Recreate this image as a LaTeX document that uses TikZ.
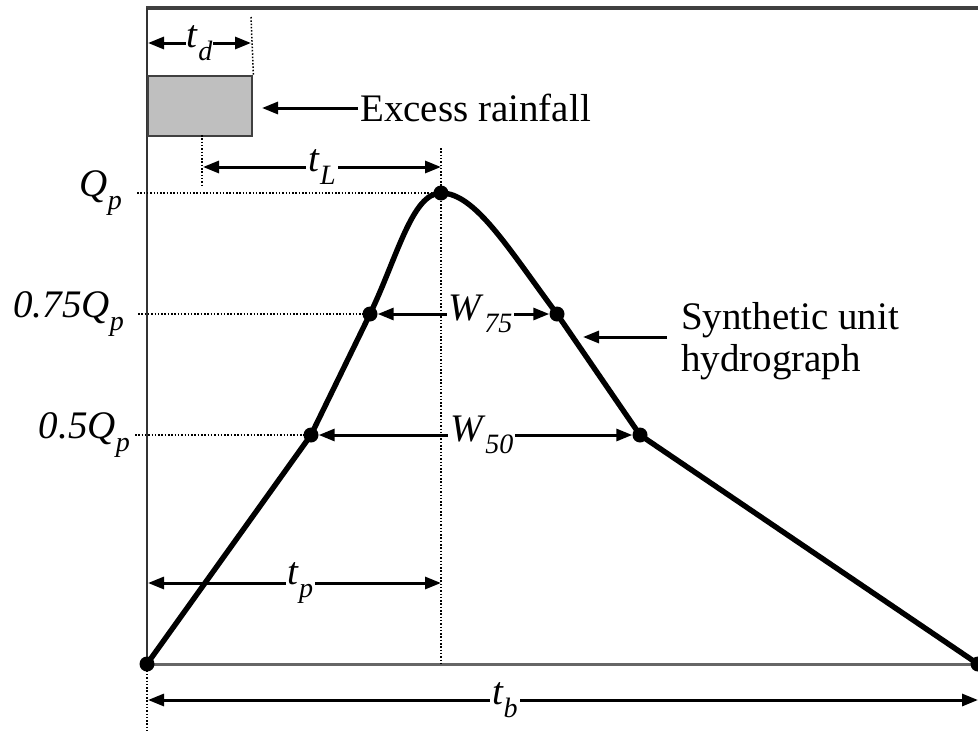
\documentclass[tikz,border=0pt]{standalone}
\usepackage{fontspec}
\setmainfont{Liberation Serif}
\usetikzlibrary{arrows.meta}
\newcommand\qsub[2]{\textit{#1}\raisebox{-0.32em}{\fontsize{28}{30}\selectfont\textit{#2}}}
\tikzset{
  tip/.tip={Triangle[length=16pt,width=12pt]},
  dimarrow/.style={tip-tip, line width=3pt},
  ptr/.style={-tip, line width=3pt},
  guide/.style={line width=1.5pt, dash pattern=on 1.5pt off 1.8pt},
  hydro/.style={line width=5.4pt, line join=round},
  hdot/.style={circle, fill=black, inner sep=0pt, minimum size=15pt},
  lbl/.style={font=\fontsize{39}{42}\selectfont, inner sep=2pt},
  gap/.style={lbl, fill=white, inner sep=2pt},
}
\begin{document}
\begin{tikzpicture}[x=1pt,y=-1pt]
\useasboundingbox (0,0) rectangle (978,731);
% frame / axes
\coordinate (tl) at (147,8);
\coordinate (tr) at (980,8);
\coordinate (bl) at (147,664);
\coordinate (br) at (980,664);
\draw[line width=3.2pt, black!75] (146,8) -- (tr);
\draw[line width=2.4pt, black!80] (tl) -- (bl);
\draw[line width=3pt, black!60] (bl) -- (br);
% rainfall block
\node[draw=black!75, line width=2.4pt, fill=black!25, minimum width=104pt, minimum height=60pt, inner sep=0pt, anchor=north west] (rain) at (147,75) {};
% hydrograph points
\node[hdot] (d0) at (147,664) {};
\node[hdot] (d50l) at (311,435) {};
\node[hdot] (d75l) at (370,314) {};
\node[hdot] (dpk) at (441,193) {};
\node[hdot] (d75r) at (557,314) {};
\node[hdot] (d50r) at (640,435) {};
\node[hdot] (dend) at (978,664) {};
% guide lines
\coordinate (gq) at (137,193);
\coordinate (g75) at (138,314);
\coordinate (g50) at (135,435);
\draw[guide] (gq) -- (dpk.center);
\draw[guide] (g75) -- (d75l.center);
\draw[guide] (g50) -- (d50l.center);
\coordinate (vpk) at (441,148);
\coordinate (vpkb) at (441,664);
\draw[guide] (vpk) -- (vpkb);
\coordinate (vtd) at (251,17);
\draw[guide] (vtd) -- (rain.north east);
\coordinate (vtl1) at (202,135);
\coordinate (vtl2) at (202,186);
\draw[guide] (vtl1) -- (vtl2);
\coordinate (vb2) at (147,731);
\draw[guide] (bl) -- (vb2);
% hydrograph
\draw[hydro] (d0.center) -- (d50l.center) -- (d75l.center)
  .. controls (397,258) and (412,193) .. (dpk.center)
  .. controls (475,193) and (508,248) .. (d75r.center)
  -- (d50r.center) -- (dend.center);
% dimension arrows
\coordinate (td1) at (148,43);
\coordinate (td2) at (251,43);
\draw[dimarrow] (td1) -- node[gap, inner sep=1pt] (tdl) {\qsub{t}{d}} (td2);
\coordinate (tL1) at (203,167);
\coordinate (tL2) at (441,167);
\draw[dimarrow] (tL1) -- node[gap] (tLl) {\qsub{t}{L}} (tL2);
\draw[dimarrow] (d75l) -- node[gap, pos=0.6] (w75) {\qsub{W}{75}} (d75r);
\draw[dimarrow] (d50l) -- node[gap, pos=0.52] (w50) {\qsub{W}{50}} (d50r);
\coordinate (tp1) at (148,583);
\coordinate (tp2) at (441,583);
\draw[dimarrow] (tp1) -- node[gap, pos=0.52] (tpl) {\qsub{t}{p}} (tp2);
\coordinate (tb1) at (148,700);
\coordinate (tb2) at (978,700);
\draw[dimarrow] (tb1) -- node[gap, pos=0.43] (tbl) {\qsub{t}{b}} (tb2);
% y labels
\node[lbl, anchor=east] (lq) at (124,193) {\qsub{Q}{p}};
\node[lbl, anchor=east] (l75) at (126,314) {\textit{0.75}\qsub{Q}{p}};
\node[lbl, anchor=east] (l50) at (132,435) {\textit{0.5}\qsub{Q}{p}};
% annotations
\node[lbl, anchor=west] (exc) at (358,108) {Excess rainfall};
\coordinate (excend) at (262,108);
\draw[ptr] (exc.west) -- (excend);
\node[lbl, anchor=west, align=left] (syn) at (679,341) {Synthetic unit\\hydrograph};
\coordinate (synstart) at (667,337);
\coordinate (synend) at (583,337);
\draw[ptr] (synstart) -- (synend);
\end{tikzpicture}
\end{document}
